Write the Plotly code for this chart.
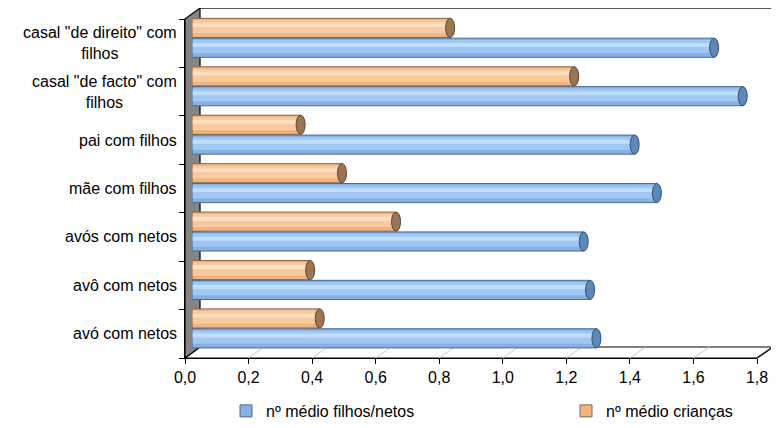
import plotly.graph_objects as go

# ---------------- data ----------------
categories = ["avó com netos", "avô com netos", "avós com netos", "mãe com filhos",
              "pai com filhos", 'casal "de facto" com filhos', 'casal "de direito" com filhos']
category_labels = ["avó com netos", "avô com netos", "avós com netos", "mãe com filhos",
                   "pai com filhos", 'casal "de facto" com<br>filhos', 'casal "de direito" com<br>filhos']
filhos_netos = [1.27, 1.25, 1.23, 1.46, 1.39, 1.73, 1.64]
criancas = [0.40, 0.37, 0.64, 0.47, 0.34, 1.20, 0.81]
series_names = ["nº médio filhos/netos", "nº médio crianças"]
x_tickvals = [0.0, 0.2, 0.4, 0.6, 0.8, 1.0, 1.2, 1.4, 1.6, 1.8]
x_ticktext = ["0,0", "0,2", "0,4", "0,6", "0,8", "1,0", "1,2", "1,4", "1,6", "1,8"]
x_max = 1.8

# ---------------- geometry (page pixels) ----------------
W, H = 779, 428
OFF = 8                                    # default page body margin
FX0, FX1, FY0, FY1 = 185, 757, 19, 358     # front plane
BX0, BX1, BY0, BY1 = 200, 773, 8, 347      # back wall
MX0, MX1 = (FX0 + BX0) / 2, (FX1 + BX1) / 2
MY0, MY1 = (FY0 + BY0) / 2, (FY1 + BY1) / 2
FONT = "Arial, Liberation Sans, sans-serif"
FS = 16


def px(x):
    return (x - OFF) / W


def py(y):
    return 1 - (y - OFF) / H


n = len(categories)
fig = go.Figure()

styles = [
    # (values, name, base, band, highlight, line, cap fill, cap line, offset, legend)
    (filhos_netos, series_names[0], "#88b1e2", "#a1c8f2", "#c0defb", "#4a6a90", "#5d88ba", "#34506f", -0.405, "legend"),
    (criancas, series_names[1], "#eeb583", "#f8ca9e", "#fde0c2", "#86644a", "#9b7655", "#5e452f", 0.005, "legend2"),
]
BW = 0.395
for vals, name, base, band, hi, line, capf, capl, off, leg in styles:
    # rounded start of each cylinder
    for i, v in enumerate(vals):
        fig.add_shape(type="circle", xref="x3", yref="y3", xsizemode="pixel", xanchor=0,
                      x0=-4.5, x1=4.5, y0=i + off, y1=i + off + BW,
                      fillcolor=base, line=dict(color=line, width=1), layer="below")
    fig.add_trace(go.Bar(x=vals, y=categories, orientation="h", name=name, legend=leg,
                         offset=off, width=BW, xaxis="x3", yaxis="y3",
                         marker=dict(color=base, line=dict(color=line, width=1)),
                         hoverinfo="x+y"))
    fig.add_trace(go.Bar(x=vals, y=categories, orientation="h", showlegend=False,
                         offset=off + BW * 0.22, width=BW * 0.68, xaxis="x3", yaxis="y3",
                         marker=dict(color=band, line=dict(width=0)), hoverinfo="skip"))
    fig.add_trace(go.Bar(x=vals, y=categories, orientation="h", showlegend=False,
                         offset=off + BW * 0.55, width=BW * 0.2, xaxis="x3", yaxis="y3",
                         marker=dict(color=hi, line=dict(width=0)), hoverinfo="skip"))
    # cylinder end caps
    for i, v in enumerate(vals):
        fig.add_shape(type="circle", xref="x3", yref="y3", xsizemode="pixel", xanchor=v,
                      x0=-4.5, x1=4.5, y0=i + off, y1=i + off + BW,
                      fillcolor=capf, line=dict(color=capl, width=1), layer="above")

# ---------------- 3D frame decorations ----------------
shapes_below = []
# floor
shapes_below.append(dict(type="path", xref="paper", yref="paper",
                         path=f"M{px(FX0)},{py(FY1)} L{px(BX0)},{py(BY1)} L{px(BX1)},{py(BY1)} L{px(FX1)},{py(FY1)} Z",
                         fillcolor="white", line=dict(color="black", width=1.2), layer="below"))
# floor diagonal gridlines
for v in x_tickvals[1:-1]:
    fxp = FX0 + v / x_max * (FX1 - FX0)
    bxp = BX0 + v / x_max * (BX1 - BX0)
    shapes_below.append(dict(type="line", xref="paper", yref="paper",
                             x0=px(fxp), y0=py(FY1), x1=px(bxp), y1=py(BY1),
                             line=dict(color="#c8c8c8", width=1), layer="below"))
# left side wall
shapes_below.append(dict(type="path", xref="paper", yref="paper",
                         path=f"M{px(FX0)},{py(FY0)} L{px(BX0)},{py(BY0)} L{px(BX0)},{py(BY1)} L{px(FX0)},{py(FY1)} Z",
                         fillcolor="#858585", line=dict(color="black", width=1.2), layer="below"))
# back wall outline (top + right)
shapes_below.append(dict(type="path", xref="paper", yref="paper",
                         path=f"M{px(BX0)},{py(BY0)} L{px(BX1)},{py(BY0)} L{px(BX1)},{py(BY1)} L{px(FX1)},{py(FY1)}",
                         line=dict(color="#222222", width=1.5), layer="below"))
# frame shapes first so they sit beneath the cylinder starts
fig.layout.shapes = tuple(shapes_below) + tuple(fig.layout.shapes)

# category labels (centered multi-line, right aligned block)
for i, lab in enumerate(category_labels):
    fig.add_annotation(x=px(179), xref="paper", y=i, yref="y2", text=lab, showarrow=False,
                       xanchor="right", yanchor="middle", align="center",
                       font=dict(family=FONT, size=FS, color="black"))

fig.update_layout(
    width=W, height=H,
    margin=dict(l=0, r=0, t=0, b=0, autoexpand=False),
    paper_bgcolor="white", plot_bgcolor="rgba(0,0,0,0)",
    barmode="overlay",
    font=dict(family=FONT, size=FS, color="black"),
    # back wall (gridlines)
    xaxis=dict(domain=[px(BX0), px(BX1)], range=[0, x_max], anchor="y", automargin=False,
               tickvals=x_tickvals, showticklabels=False, ticks="",
               showgrid=True, gridcolor="#c8c8c8", gridwidth=1, zeroline=False, showline=False),
    yaxis=dict(domain=[py(BY1), py(BY0)], range=[0, 1], anchor="x", visible=False, automargin=False),
    # front axes
    xaxis2=dict(domain=[px(FX0), px(FX1)], range=[0, x_max], anchor="y2", automargin=False,
                tickvals=x_tickvals, ticktext=x_ticktext, ticks="outside", ticklen=5,
                tickcolor="black", showline=True, linecolor="black", linewidth=1.2,
                showgrid=False, zeroline=False, tickfont=dict(size=FS)),
    yaxis2=dict(domain=[py(FY1), py(FY0)], range=[-0.5, n - 0.5], anchor="x2", automargin=False,
                tickvals=[k - 0.5 for k in range(n + 1)], showticklabels=False,
                ticks="outside", ticklen=5, tickcolor="black",
                showline=True, linecolor="black", linewidth=1.2, showgrid=False, zeroline=False),
    # bars (mid-depth plane)
    xaxis3=dict(domain=[px(MX0), px(MX1)], range=[0, x_max], anchor="y3", visible=False, automargin=False),
    yaxis3=dict(domain=[py(MY1), py(MY0)], type="category", categoryorder="array",
                categoryarray=categories, range=[-0.5, n - 0.5], anchor="x3", visible=False,
                automargin=False),
    legend=dict(orientation="h", xref="container", yref="container",
                x=px(226), y=py(411), xanchor="left", yanchor="middle",
                font=dict(size=FS), bgcolor="rgba(0,0,0,0)"),
    legend2=dict(orientation="h", xref="container", yref="container",
                 x=px(566), y=py(411), xanchor="left", yanchor="middle",
                 font=dict(size=FS), bgcolor="rgba(0,0,0,0)"),
    showlegend=True,
)

fig.write_html("out.html")
